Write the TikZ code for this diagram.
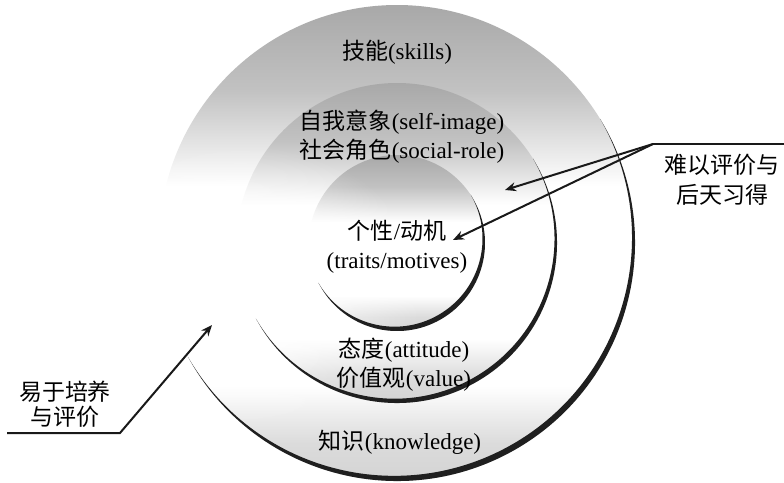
\documentclass[tikz,border=0pt]{standalone}
\usepackage{fontspec}
\setmainfont{Liberation Serif}
\newfontfamily\cjk{Noto Sans CJK SC}
\newcommand\zh[1]{{\cjk #1}}
\usetikzlibrary{arrows.meta,calc,fadings}
\pgfdeclareverticalshading{ringshade}{100bp}{color(0bp)=(black!17); color(25bp)=(black!17); color(29bp)=(black!14); color(35bp)=(white); color(56bp)=(white); color(66bp)=(black!24); color(75bp)=(black!34); color(100bp)=(black!34)}
\tikzfading[name=spotfade, inner color=transparent!0, outer color=transparent!100]
\begin{document}
\begin{tikzpicture}[x=0.5pt,y=-0.5pt,
  lbl/.style={font=\fontsize{11.5}{14.5}\selectfont, align=center, inner sep=0pt},
  sidelbl/.style={font=\cjk\fontsize{11.5}{15}\selectfont, align=center, inner sep=0pt},
  conn/.style={line width=1pt, black!90},
  tip/.style={-{Stealth[length=5.5pt,width=4.5pt]}},
  crescent/.style={fill=black!88}]
\useasboundingbox (0,0) rectangle (784,483);
\coordinate (c) at (397,243);
% shaded discs
\shade[shading=ringshade] (c) circle (238);
\shade[shading=ringshade] (c) circle (160);
\shade[shading=ringshade] (c) circle (88);
% soft white light on the left
\begin{scope}
  \clip (c) circle (238);
  \fill[white, path fading=spotfade] (240,285) ellipse [x radius=185, y radius=140];
  \fill[white, path fading=spotfade] (235,285) ellipse [x radius=130, y radius=110];
  \fill[white, path fading=spotfade] (200,270) ellipse [x radius=70, y radius=110];
\end{scope}
% dark crescents
\fill[crescent] ($(c)+(-30:238)$) arc[start angle=-30,end angle=150,radius=238]
  -- ($(c)+(240:6)+(150:238)$) arc[start angle=150,end angle=-30,radius=238] -- cycle;
\fill[crescent] ($(c)+(-30:160)$) arc[start angle=-30,end angle=150,radius=160]
  -- ($(c)+(240:5)+(150:160)$) arc[start angle=150,end angle=-30,radius=160] -- cycle;
\fill[crescent] ($(c)+(-30:88)$) arc[start angle=-30,end angle=150,radius=88]
  -- ($(c)+(240:5)+(150:88)$) arc[start angle=150,end angle=-30,radius=88] -- cycle;
% labels
\node[lbl] (skills) at (397,52) {\zh{技能}(skills)};
\node[lbl] (self) at (402,137) {\zh{自我意象}(self-image)\\\zh{社会角色}(social-role)};
\node[lbl] (trait) at (397,247) {\zh{个性}/\zh{动机}\\(traits/motives)};
\node[lbl] (att) at (404,365) {\zh{态度}(attitude)\\\zh{价值观}(value)};
\node[lbl] (know) at (400,442) {\zh{知识}(knowledge)};
\node[sidelbl] (hard) at (722,180) {难以评价与\\后天习得};
\node[sidelbl, font=\cjk\fontsize{11.5}{12.5}\selectfont] (easy) at (65,404) {易于培养\\与评价};
% connectors
\coordinate (rA) at (784,144);
\coordinate (rJ) at (653,144);
\coordinate (rT1) at (505,190);
\coordinate (rT2) at (453,240);
\draw[conn] (rA) -- (rJ);
\draw[conn,tip] (rJ) -- (rT1);
\draw[conn,tip] (rJ) -- (rT2);
\coordinate (lA) at (7,433);
\coordinate (lJ) at (120,433);
\coordinate (lT) at (212,325);
\draw[conn,tip] (lA) -- (lJ) -- (lT);
\end{tikzpicture}
\end{document}
